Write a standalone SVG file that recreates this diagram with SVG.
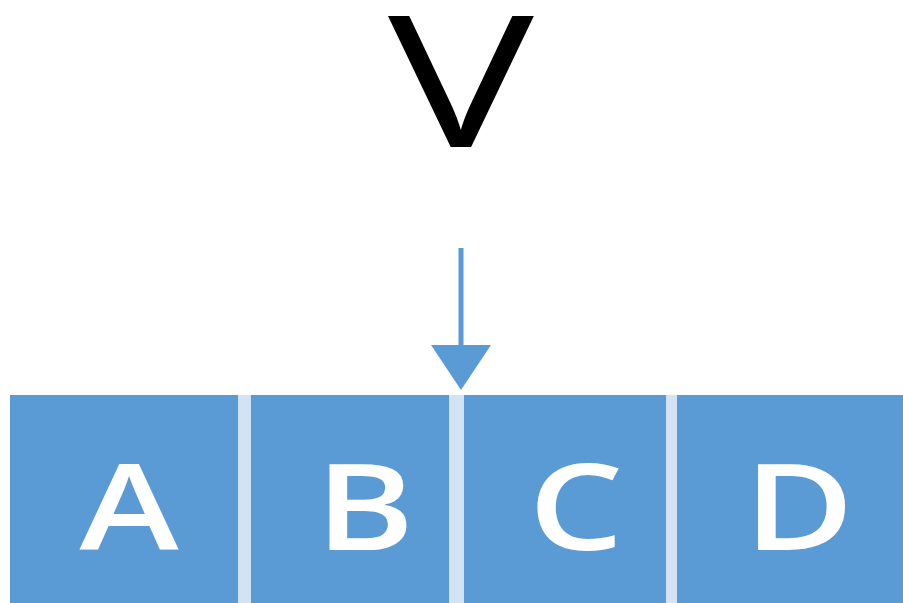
<svg xmlns="http://www.w3.org/2000/svg" width="903" height="603" viewBox="0 0 903 603">
  <defs>
    <style>
      .cell { fill: #5B9BD5; }
      .sep { fill: #D3E3F3; }
      .lbl { font-family: "Open Sans", "Liberation Sans", sans-serif; font-weight: 600; font-size: 120px; fill: #FFFFFF; text-anchor: middle; }
      .title { font-family: "Open Sans", "Liberation Sans", sans-serif; font-weight: 400; font-size: 184px; fill: #000000; text-anchor: middle; }
      .conn { stroke: #5B9BD5; stroke-width: 5; fill: none; }
    </style>
    <marker id="arrow" markerUnits="userSpaceOnUse" markerWidth="60" markerHeight="60" refX="15" refY="30" orient="auto" viewBox="0 0 60 60">
      <path d="M0,0 L45,30 L0,60 Z" fill="#5B9BD5"/>
    </marker>
  </defs>

  <rect width="903" height="603" fill="#FFFFFF"/>

  <g id="label-v">
    <text class="title" x="0" y="147" transform="translate(461 0) scale(1.33 1)">V</text>
  </g>

  <g id="cell-a">
    <rect class="cell" x="10" y="395" width="228" height="208"/>
    <text class="lbl" x="0" y="550" transform="translate(129 0) scale(1.25 1)">A</text>
  </g>
  <rect class="sep" x="238" y="395" width="13" height="208"/>
  <g id="cell-b">
    <rect class="cell" x="251" y="395" width="198" height="208"/>
    <text class="lbl" x="0" y="550" transform="translate(365 0) scale(1.25 1)">B</text>
  </g>
  <rect class="sep" x="449" y="395" width="15" height="208"/>
  <g id="cell-c">
    <rect class="cell" x="464" y="395" width="202" height="208"/>
    <text class="lbl" x="0" y="550" transform="translate(576 0) scale(1.25 1)">C</text>
  </g>
  <rect class="sep" x="666" y="395" width="11" height="208"/>
  <g id="cell-d">
    <rect class="cell" x="677" y="395" width="226" height="208"/>
    <text class="lbl" x="0" y="550" transform="translate(799 0) scale(1.25 1)">D</text>
  </g>

  <g id="connectors">
    <line class="conn" x1="461" y1="248" x2="461" y2="360" marker-end="url(#arrow)"/>
  </g>
</svg>
